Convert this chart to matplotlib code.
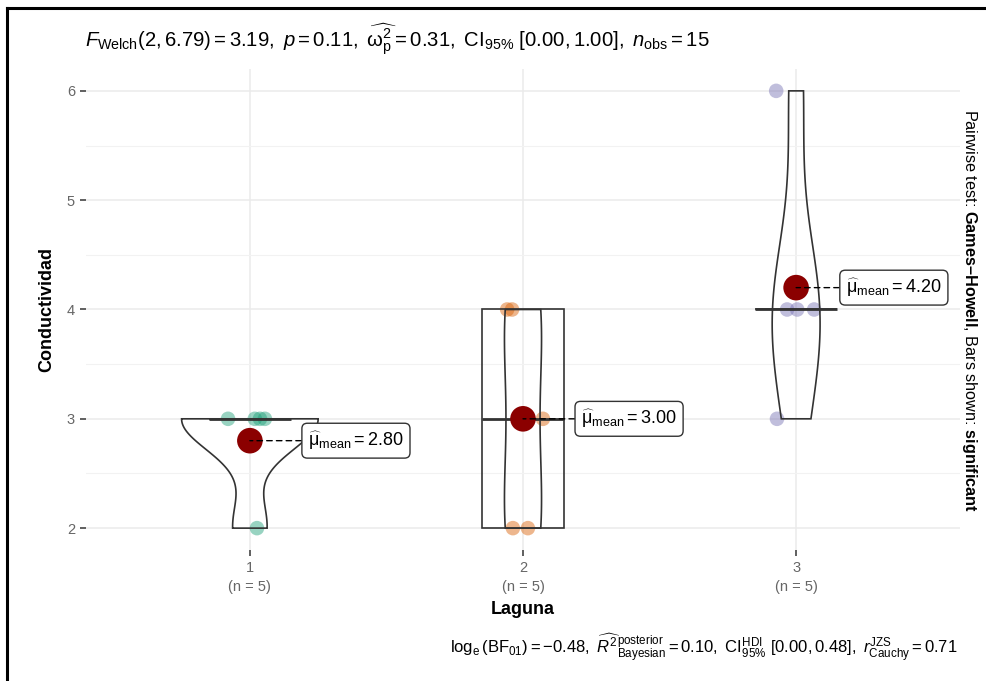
import numpy as np
import matplotlib
matplotlib.use('Agg')
import matplotlib.pyplot as plt
from matplotlib.lines import Line2D

plt.rcParams['font.family'] = ['Liberation Sans', 'DejaVu Sans']
plt.rcParams['mathtext.fontset'] = 'custom'
plt.rcParams['mathtext.rm'] = 'Liberation Sans'
plt.rcParams['mathtext.it'] = 'Liberation Sans:italic'
plt.rcParams['mathtext.bf'] = 'Liberation Sans:bold'
plt.rcParams['mathtext.sf'] = 'Liberation Sans'

# data
laguna = ['1', '2', '3']
cond_1 = [3, 3, 3, 3, 2]
cond_2 = [4, 4, 3, 2, 2]
cond_3 = [6, 4, 4, 4, 3]
# horizontal jitter of the raw points (category units)
jit_1 = [-0.08, 0.018, 0.037, 0.055, 0.026]
jit_2 = [-0.058, -0.04, 0.073, -0.037, 0.018]
jit_3 = [-0.073, -0.033, 0.004, 0.066, -0.07]

groups = [cond_1, cond_2, cond_3]
jitters = [jit_1, jit_2, jit_3]
point_cols = ['#1B9E77', '#D95F02', '#7570B3']

title = (r"$\mathit{F}_{\mathrm{Welch}}(2, 6.79) = 3.19,\ \mathit{p} = 0.11,\ "
         r"\widehat{\mathrm{\omega}_{\mathrm{p}}^{2}} = 0.31,\ \mathrm{CI}_{95\%}\ [0.00, 1.00],\ "
         r"\mathit{n}_{\mathrm{obs}} = 15$")
caption = (r"$\log_{\mathrm{e}}(\mathrm{BF}_{01}) = -0.48,\ "
           r"\widehat{R^{2}}^{\mathrm{posterior}}_{\mathrm{Bayesian}} = 0.10,\ "
           r"\mathrm{CI}^{\mathrm{HDI}}_{95\%}\ [0.00, 0.48],\ "
           r"\mathit{r}^{\mathrm{JZS}}_{\mathrm{Cauchy}} = 0.71$")


def bw_nrd0(x):
    x = np.asarray(x, float)
    hi = np.std(x, ddof=1)
    iqr = np.percentile(x, 75) - np.percentile(x, 25)
    lo = min(hi, iqr / 1.34)
    if not lo:
        lo = hi or abs(x[0]) or 1.0
    return 0.9 * lo * len(x) ** -0.2


def kde(x, grid):
    x = np.asarray(x, float)
    bw = bw_nrd0(x)
    z = (grid[:, None] - x[None, :]) / bw
    return np.exp(-0.5 * z ** 2).sum(axis=1) / (len(x) * bw * np.sqrt(2 * np.pi))


fig = plt.figure(figsize=(9.87, 6.81), dpi=100)
ax = fig.add_axes([86 / 987, 1 - 550 / 681, 874 / 987, 481 / 681])

# violins, scaled by area (shared max width 0.5)
grids = [np.linspace(min(g), max(g), 256) for g in groups]
dens = [kde(g, gr) for g, gr in zip(groups, grids)]
dmax = max(d.max() for d in dens)
for i, (gr, d) in enumerate(zip(grids, dens)):
    hw = d / dmax * 0.25
    xs = np.concatenate([i + 1 - hw, (i + 1 + hw)[::-1]])
    ys = np.concatenate([gr, gr[::-1]])
    ax.fill(xs, ys, facecolor='none', edgecolor='#333333', lw=1.2, zorder=3)

# boxplots
ax.boxplot(groups, positions=[1, 2, 3], widths=0.3, showfliers=False, showcaps=False,
           patch_artist=True,
           boxprops=dict(facecolor='none', edgecolor='#333333', lw=1.2),
           whiskerprops=dict(color='#333333', lw=1.2),
           medianprops=dict(color='#333333', lw=2.0),
           zorder=4)

# raw points
for i, (g, j) in enumerate(zip(groups, jitters)):
    ax.scatter(np.array(j) + i + 1, g, s=110, color=point_cols[i], alpha=0.45,
               edgecolors='none', zorder=2)

# means with labels
for i, g in enumerate(groups):
    m = np.mean(g)
    ax.scatter([i + 1], [m], s=340, color='#8B0000', edgecolors='none', zorder=6)
    ax.annotate(r"$\widehat{\mathrm{\mu}}_{\mathrm{mean}} = %.2f$" % m,
                xy=(i + 1, m), xytext=(36 if i == 2 else 42, 0), textcoords='offset points',
                ha='left', va='center', fontsize=13, zorder=7,
                bbox=dict(boxstyle='round,pad=0.35,rounding_size=0.3', fc='white',
                          ec='#333333', lw=1.0),
                arrowprops=dict(arrowstyle='-', color='black', lw=1.0,
                                linestyle=(0, (4, 3)), shrinkA=0, shrinkB=0))

ax.set_xlim(0.4, 3.6)
ax.set_ylim(1.8, 6.2)
ax.set_xticks([1, 2, 3])
ax.set_xticklabels(['%s\n(n = %d)' % (lab, len(g)) for lab, g in zip(laguna, groups)],
                   fontsize=10.5, color='#666666', linespacing=1.45)
ax.set_yticks([2, 3, 4, 5, 6])
ax.set_yticks([2.5, 3.5, 4.5, 5.5], minor=True)
ax.tick_params(axis='y', labelsize=10.5, labelcolor='#666666')
ax.tick_params(axis='both', which='major', length=4, width=1.2, color='#444444', pad=4)
ax.tick_params(axis='y', which='minor', length=0)
ax.grid(True, which='major', color='#EBEBEB', lw=1.1)
ax.grid(True, which='minor', axis='y', color='#F2F2F2', lw=0.8)
ax.set_axisbelow(True)
for s in ax.spines.values():
    s.set_visible(False)

ax.set_xlabel('Laguna', fontsize=13, fontweight='bold', labelpad=5)
ax.set_ylabel('Conductividad', fontsize=13, fontweight='bold', labelpad=8)

fig.text(85 / 987, 1 - 40 / 681, title, fontsize=14.6, ha='left', va='center')
fig.text(958 / 987, 1 - 648 / 681, caption, fontsize=12, ha='right', va='center')
fig.text(970 / 987, 1 - 310 / 681,
         r"Pairwise test: $\mathbf{Games–Howell}$, Bars shown: $\mathbf{significant}$",
         rotation=270, fontsize=11.7, ha='center', va='center')

# screenshot frame
fig.add_artist(Line2D([7 / 987, 7 / 987], [0, 1 - 8 / 681], color='black', lw=2.2))
fig.add_artist(Line2D([7 / 987, 1], [1 - 8 / 681, 1 - 8 / 681], color='black', lw=2.2))

fig.savefig('out.png', dpi=100)
